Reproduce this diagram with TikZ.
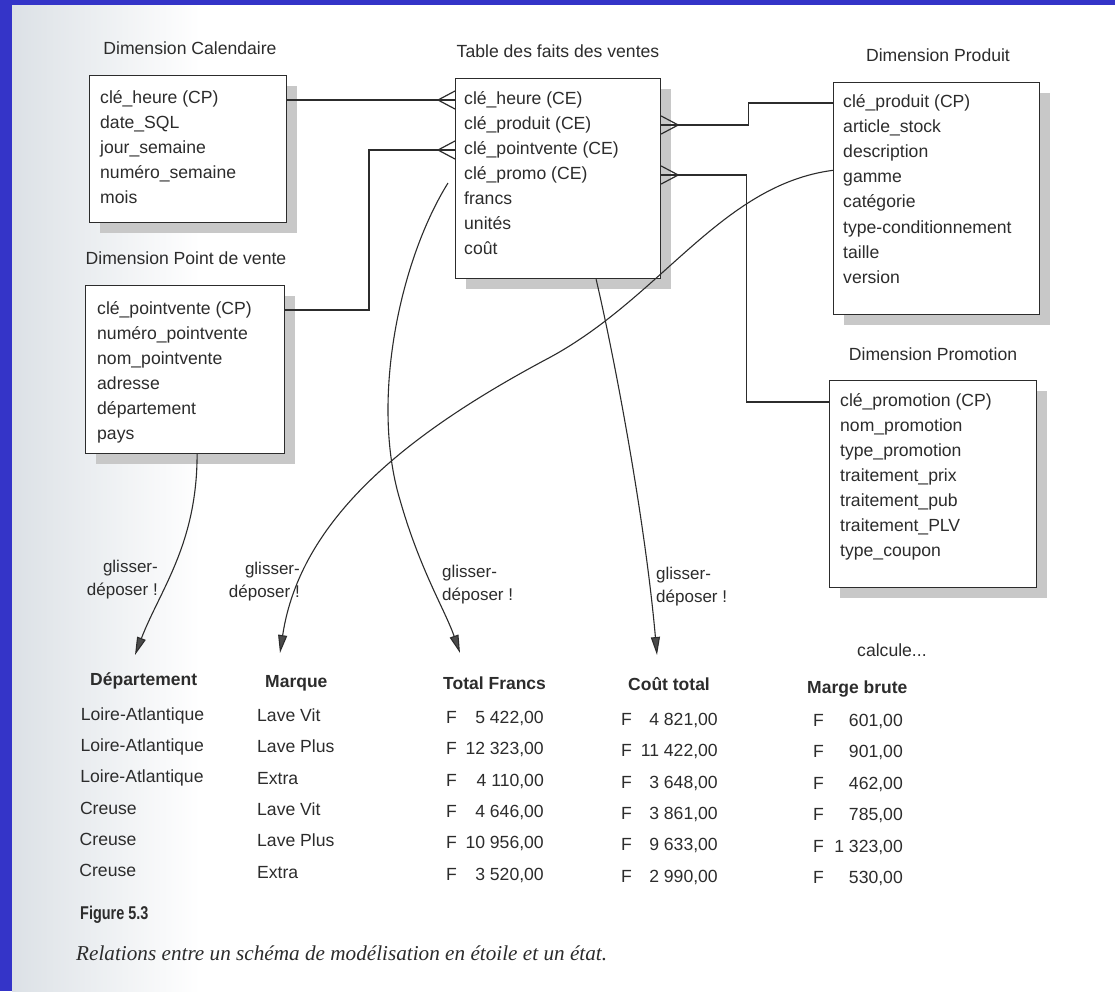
\documentclass[tikz,border=0pt]{standalone}
\usepackage{fontspec}
\setmainfont{Liberation Sans}
\newfontfamily\capfont{Liberation Serif}
\usetikzlibrary{arrows.meta,calc,shadows}
\definecolor{ink}{HTML}{2C2C2C}
\definecolor{shad}{HTML}{C8C8C8}
\definecolor{bandblue}{HTML}{3434C8}
\definecolor{arrowc}{HTML}{4A4A4A}
\definecolor{leftshade}{HTML}{DCE1E6}
\newcommand\crowLeft[1]{\draw[conn] ($(#1)+(-17,0)$) -- ($(#1)+(0,-9)$) ($(#1)+(-17,0)$) -- ($(#1)+(0,9)$);}
\newcommand\crowRight[1]{\draw[conn] ($(#1)+(17,0)$) -- ($(#1)+(0,-9)$) ($(#1)+(17,0)$) -- ($(#1)+(0,9)$);}
\begin{document}
\begin{tikzpicture}[x=1pt,y=-1pt,
  txt/.style={font=\fontsize{17.6}{22}\selectfont, text=ink, inner sep=0pt},
  item/.style={txt, anchor=west, text height=12.5pt, text depth=3.5pt},
  title/.style={txt, text height=12.5pt, text depth=3.5pt},
  hdr/.style={item, font=\fontsize{17.5}{22}\selectfont\bfseries},
  dragtxt/.style={txt, font=\fontsize{17}{22.5}\selectfont},
  entity/.style={draw=ink, line width=1.2pt, fill=white, anchor=north west, inner sep=0pt,
    drop shadow={shadow xshift=10pt, shadow yshift=-10pt, fill=shad, opacity=1}},
  conn/.style={draw=ink, line width=1.2pt},
  drag/.style={draw=ink, line width=1.1pt, -{Triangle[length=18pt,width=9pt,fill=arrowc]}}
]
\useasboundingbox (0,0) rectangle (1115,991);
\fill[white] (0,0) rectangle (1115,991);
\shade[left color=leftshade, right color=white] (12,5) rectangle (200,991);
\fill[bandblue] (0,0) rectangle (12,991);
\fill[bandblue] (0,0) rectangle (1115,5);

% ---------- entities ----------
\node[entity, minimum width=197pt, minimum height=147pt] (cal) at (89,75) {};
\node[title] (calT) at (190,50) {Dimension Calendaire};
\foreach [count=\i] \t in {clé\_heure (CP),date\_SQL,jour\_semaine,numéro\_semaine,mois}
  \node[item] (cal-\i) at (100,{99+25*(\i-1)}) {\t};

\node[entity, minimum width=199pt, minimum height=168pt] (pdv) at (85,285) {};
\node[title] (pdvT) at (186,260) {Dimension Point de vente};
\foreach [count=\i] \t in {clé\_pointvente (CP),numéro\_pointvente,nom\_pointvente,adresse,département,pays}
  \node[item] (pdv-\i) at (97,{310+25*(\i-1)}) {\t};

\node[entity, minimum width=205pt, minimum height=200pt] (fait) at (455,78) {};
\node[title] (faitT) at (558,53) {Table des faits des ventes};
\foreach [count=\i] \t in {clé\_heure (CE),clé\_produit (CE),clé\_pointvente (CE),clé\_promo (CE),francs,unités,coût}
  \node[item] (fait-\i) at (464,{100+25*(\i-1)}) {\t};

\node[entity, minimum width=206pt, minimum height=232pt] (prod) at (833,82) {};
\node[title] (prodT) at (938,57) {Dimension Produit};
\foreach [count=\i] \t in {clé\_produit (CP),article\_stock,description,gamme,catégorie,type-conditionnement,taille,version}
  \node[item] (prod-\i) at (843,{103+25.1*(\i-1)}) {\t};

\node[entity, minimum width=207pt, minimum height=207pt] (promo) at (829,380) {};
\node[title] (promoT) at (933,356) {Dimension Promotion};
\foreach [count=\i] \t in {clé\_promotion (CP),nom\_promotion,type\_promotion,traitement\_prix,traitement\_pub,traitement\_PLV,type\_coupon}
  \node[item] (promo-\i) at (840,{402+25*(\i-1)}) {\t};

% ---------- relational connectors ----------
\coordinate (fW1) at (fait.west |- fait-1);
\coordinate (fW3) at (fait.west |- fait-3);
\coordinate (fE2) at (fait.east |- fait-2);
\coordinate (fE4) at (fait.east |- fait-4);

\draw[conn] (cal.east |- fW1) -- (fW1);
\crowLeft{fW1}
\draw[conn] (pdv.east |- pdv-1) -| ($(fW3)+(-86,0)$) -- (fW3);
\crowLeft{fW3}
\draw[conn] (fE2) -- ++(87,0) |- (prod.west |- prod-1);
\crowRight{fE2}
\draw[conn] (fE4) -- ++(85,0) |- (promo.west |- promo-1);
\crowRight{fE4}

% ---------- drag and drop arrows ----------
\coordinate (aS) at ($(pdv.south)+(12,0)$);
\coordinate (aT) at (135,655);
\coordinate (bS) at ($(prod.west |- prod-4)+(0,-8)$);
\coordinate (bT) at (280,653);
\coordinate (cS) at ($(fW1 |- fait-4)+(-7,8)$);
\coordinate (cT) at (460,653);
\coordinate (dS) at ($(fait.south)+(38,0)$);
\coordinate (dT) at (657,655);

\draw[drag] (aS) .. controls +(0,90) and +(25,-65) .. (aT);
\draw[drag] (bS) .. controls (720,185) and (660,300) .. (545,360)
               .. controls (405,435) and (300,520) .. (bT);
\draw[drag] (cS) .. controls (400,260) and (370,400) .. (400,500)
               .. controls (420,570) and (445,610) .. (cT);
\draw[drag] (dS) .. controls (615,360) and (645,520) .. (dT);

\node[dragtxt, align=right, anchor=north east] (lab1) at (158,560) {glisser-\\déposer !};
\node[dragtxt, align=right, anchor=north east] (lab2) at (300,562) {glisser-\\déposer !};
\node[dragtxt, align=left, anchor=north west] (lab3) at (442,565) {glisser-\\déposer !};
\node[dragtxt, align=left, anchor=north west] (lab4) at (656,567) {glisser-\\déposer !};

\node[item] (calc) at (857,652) {calcule...};

% ---------- report table ----------
\node[hdr] (h1) at (90,681) {Département};
\node[hdr] (h2) at (265,683) {Marque};
\node[hdr] (h3) at (443,685) {Total Francs};
\node[hdr] (h4) at (628,686) {Coût total};
\node[hdr] (h5) at (807,689) {Marge brute};

\foreach [count=\i] \t in {Loire-Atlantique,Loire-Atlantique,Loire-Atlantique,Creuse,Creuse,Creuse}
  \node[item] (dep-\i) at ({81-0.3*\i},{716+31.2*(\i-1)}) {\t};
\foreach [count=\i] \t in {Lave Vit,Lave Plus,Extra,Lave Vit,Lave Plus,Extra}
  \node[item] (mq-\i) at (257,{717+31.3*(\i-1)}) {\t};
\foreach [count=\i] \t in {{5 422,00},{12 323,00},{4 110,00},{4 646,00},{10 956,00},{3 520,00}}{
  \node[item] (tfF-\i) at (446,{719+31.3*(\i-1)}) {F};
  \node[item, anchor=east] (tf-\i) at (544,{719+31.3*(\i-1)}) {\t};}
\foreach [count=\i] \t in {{4 821,00},{11 422,00},{3 648,00},{3 861,00},{9 633,00},{2 990,00}}{
  \node[item] (ctF-\i) at (621,{721+31.3*(\i-1)}) {F};
  \node[item, anchor=east] (ct-\i) at (718,{721+31.3*(\i-1)}) {\t};}
\foreach [count=\i] \t in {{601,00},{901,00},{462,00},{785,00},{1 323,00},{530,00}}{
  \node[item] (mbF-\i) at (813,{722+31.4*(\i-1)}) {F};
  \node[item, anchor=east] (mb-\i) at (903,{722+31.4*(\i-1)}) {\t};}

% ---------- caption ----------
\node[txt, anchor=west, font=\fontsize{18.5}{20}\selectfont\bfseries] (fig) at (80,915) {\scalebox{0.78}[1]{Figure 5.3}};
\node[txt, anchor=west, font=\capfont\itshape\fontsize{21.2}{24}\selectfont] (cap) at (76,953)
  {Relations entre un schéma de modélisation en étoile et un état.};
\end{tikzpicture}
\end{document}
